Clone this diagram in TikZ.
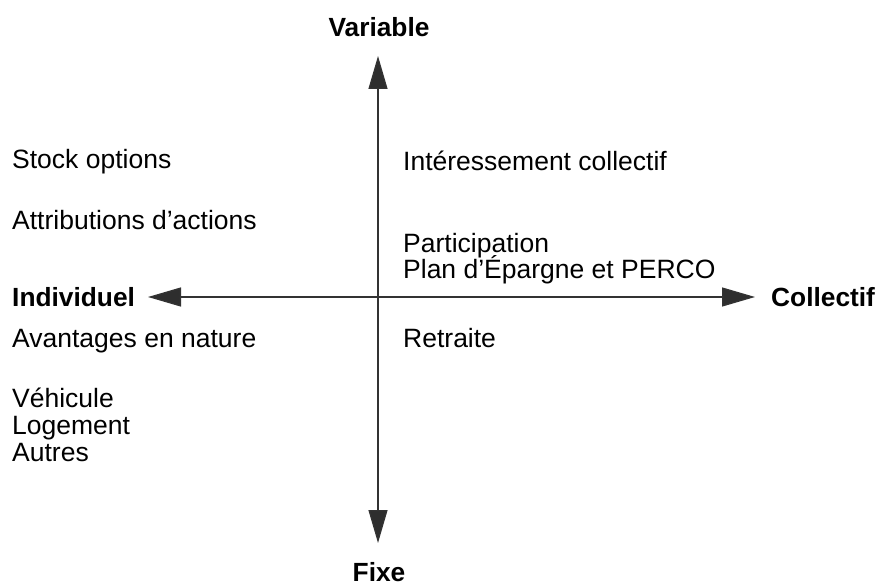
\documentclass[tikz,border=0pt]{standalone}
\usepackage{fontspec}
\setmainfont{Liberation Sans}
\usetikzlibrary{arrows.meta}
\begin{document}
\begin{tikzpicture}[x=1pt,y=-1pt,
  axisline/.style={draw=black!80, line width=1.3pt,
    {Triangle[length=33pt,width=19pt,fill=black!82]}-{Triangle[length=33pt,width=19pt,fill=black!82]}},
  pole/.style={font=\fontsize{26.3}{27}\selectfont\bfseries, inner sep=0pt, anchor=base},
  polel/.style={font=\fontsize{26.3}{27}\selectfont\bfseries, inner sep=0pt, anchor=base west},
  item/.style={font=\fontsize{26.5}{27}\selectfont, inner sep=0pt, anchor=base west}]
  \useasboundingbox[fill=white] (0,0) rectangle (878,585);

  % axes
  \coordinate (vtop) at (378,56);
  \coordinate (vbot) at (378,543);
  \coordinate (hleft) at (148,297);
  \coordinate (hright) at (755,297);
  \draw[axisline] (vbot) -- (vtop);
  \draw[axisline] (hleft) -- (hright);

  % poles
  \node[pole] (variable) at (379,37) {Variable};
  \node[pole] (fixe) at (379,581) {Fixe};
  \node[polel] (individuel) at (12,306) {Individuel};
  \node[polel] (collectif) at (771,306) {Collectif};

  % upper left quadrant
  \node[item] (stock) at (12,169) {Stock options};
  \node[item] (attrib) at (12,230) {Attributions d’actions};

  % upper right quadrant
  \node[item] (interess) at (403,171) {Intéressement collectif};
  \node[item] (particip) at (403,253) {Participation};
  \node[item] (plan) at (403,279) {Plan d’Épargne et PERCO};

  % lower right quadrant
  \node[item] (retraite) at (403,347) {Retraite};

  % lower left quadrant
  \node[item] (avantages) at (12,347) {Avantages en nature};
  \node[item] (vehicule) at (12,407) {Véhicule};
  \node[item] (logement) at (12,434) {Logement};
  \node[item] (autres) at (12,461) {Autres};
\end{tikzpicture}
\end{document}
